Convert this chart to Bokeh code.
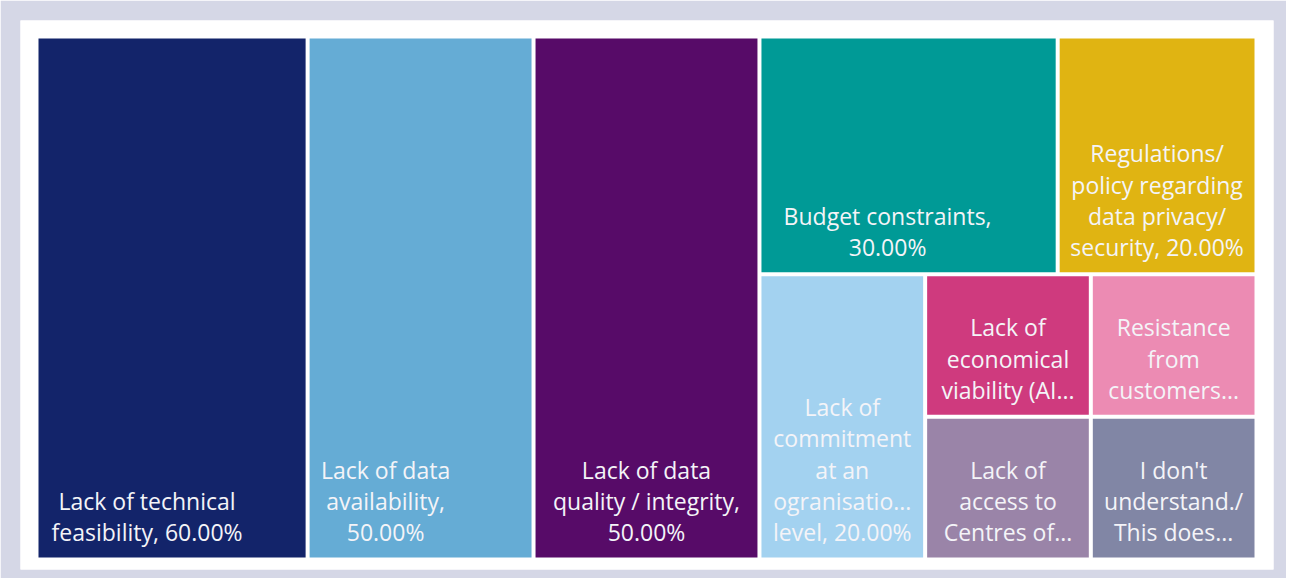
from bokeh.plotting import figure
from bokeh.models import ColumnDataSource, Range1d
from bokeh.core.properties import value
from bokeh.embed import file_html
from bokeh.resources import INLINE

# ---- data ----
categories = [
    "Lack of technical feasibility",
    "Lack of data availability",
    "Lack of data quality / integrity",
    "Budget constraints",
    "Regulations/ policy regarding data privacy/ security",
    "Lack of commitment at an ogranisation level",
    "Lack of economical viability (AI...",
    "Resistance from customers...",
    "Lack of access to Centres of...",
    "I don't understand./ This does...",
]
values = [60, 50, 50, 30, 20, 20, 10, 10, 10, 10]
labels = [
    "Lack of technical\nfeasibility, 60.00%",
    "Lack of data\navailability,\n50.00%",
    "Lack of data\nquality / integrity,\n50.00%",
    "Budget constraints,\n30.00%",
    "Regulations/\npolicy regarding\ndata privacy/\nsecurity, 20.00%",
    "Lack of\ncommitment\nat an\nogranisatio...\nlevel, 20.00%",
    "Lack of\neconomical\nviability (AI...",
    "Resistance\nfrom\ncustomers...",
    "Lack of\naccess to\nCentres of...",
    "I don't\nunderstand./\nThis does...",
]
colors = ["#13246a", "#65acd5", "#570b68", "#009a96", "#e0b412",
          "#a3d2f0", "#cf3a7e", "#ec8bb3", "#9a84a8", "#8186a5"]

# ---- layout spec (treemap nesting: "h" = side by side, "v" = stacked) ----
layout_tree = ["h", 0, 1, 2, ["v", ["h", 3, 4], ["h", 5, ["v", ["h", 6, 7], ["h", 8, 9]]]]]
label_dx = [-25, -35, 0, -21, 0, 0, 0, 0, 0, 0]

FRAME_W, FRAME_H = 1253, 549
PAD_L, PAD_R, PAD_T, PAD_B = 16, 17, 16, 10
GAP = 2.0


def total(node):
    if isinstance(node, int):
        return values[node]
    return sum(total(c) for c in node[1:])


rects = [None] * len(values)


def place(node, x0, y0, x1, y1):
    if isinstance(node, int):
        rects[node] = (x0, y0, x1, y1)
        return
    direction, children = node[0], node[1:]
    t = sum(total(c) for c in children)
    pos = x0 if direction == "h" else y0
    for c in children:
        frac = total(c) / t
        if direction == "h":
            w = (x1 - x0) * frac
            place(c, pos, y0, pos + w, y1)
            pos += w
        else:
            h = (y1 - y0) * frac
            place(c, x0, pos, x1, pos + h)
            pos += h


place(layout_tree, PAD_L, PAD_T, FRAME_W - PAD_R, FRAME_H - PAD_B)

src = ColumnDataSource(dict(
    left=[r[0] + GAP for r in rects],
    right=[r[2] - GAP for r in rects],
    top=[r[1] + GAP for r in rects],
    bottom=[r[3] - GAP for r in rects],
    color=colors,
    label=labels,
    lx=[(r[0] + r[2]) / 2 + dx for r, dx in zip(rects, label_dx)],
    ly=[r[3] - GAP - 9 for r in rects],
    cat=categories,
    val=values,
))

p = figure(width=1286, height=578, output_backend="svg", toolbar_location=None,
           x_range=Range1d(0, FRAME_W), y_range=Range1d(FRAME_H, 0),
           x_axis_location=None, y_axis_location=None,
           min_border_left=20, min_border_right=13, min_border_top=20, min_border_bottom=9)
p.grid.visible = False
p.outline_line_color = None
p.background_fill_color = "#ffffff"
p.border_fill_color = "#d5d7e6"

p.quad(left="left", right="right", top="top", bottom="bottom", source=src,
       fill_color="color", line_color=None)
p.text(x="lx", y="ly", text="label", source=src,
       text_font=value("Open Sans"), text_font_size="23px", text_color="#f4f4f8",
       text_align="center", text_baseline="bottom", text_line_height=0.98)

open("out.html", "w").write(file_html(p, INLINE))
